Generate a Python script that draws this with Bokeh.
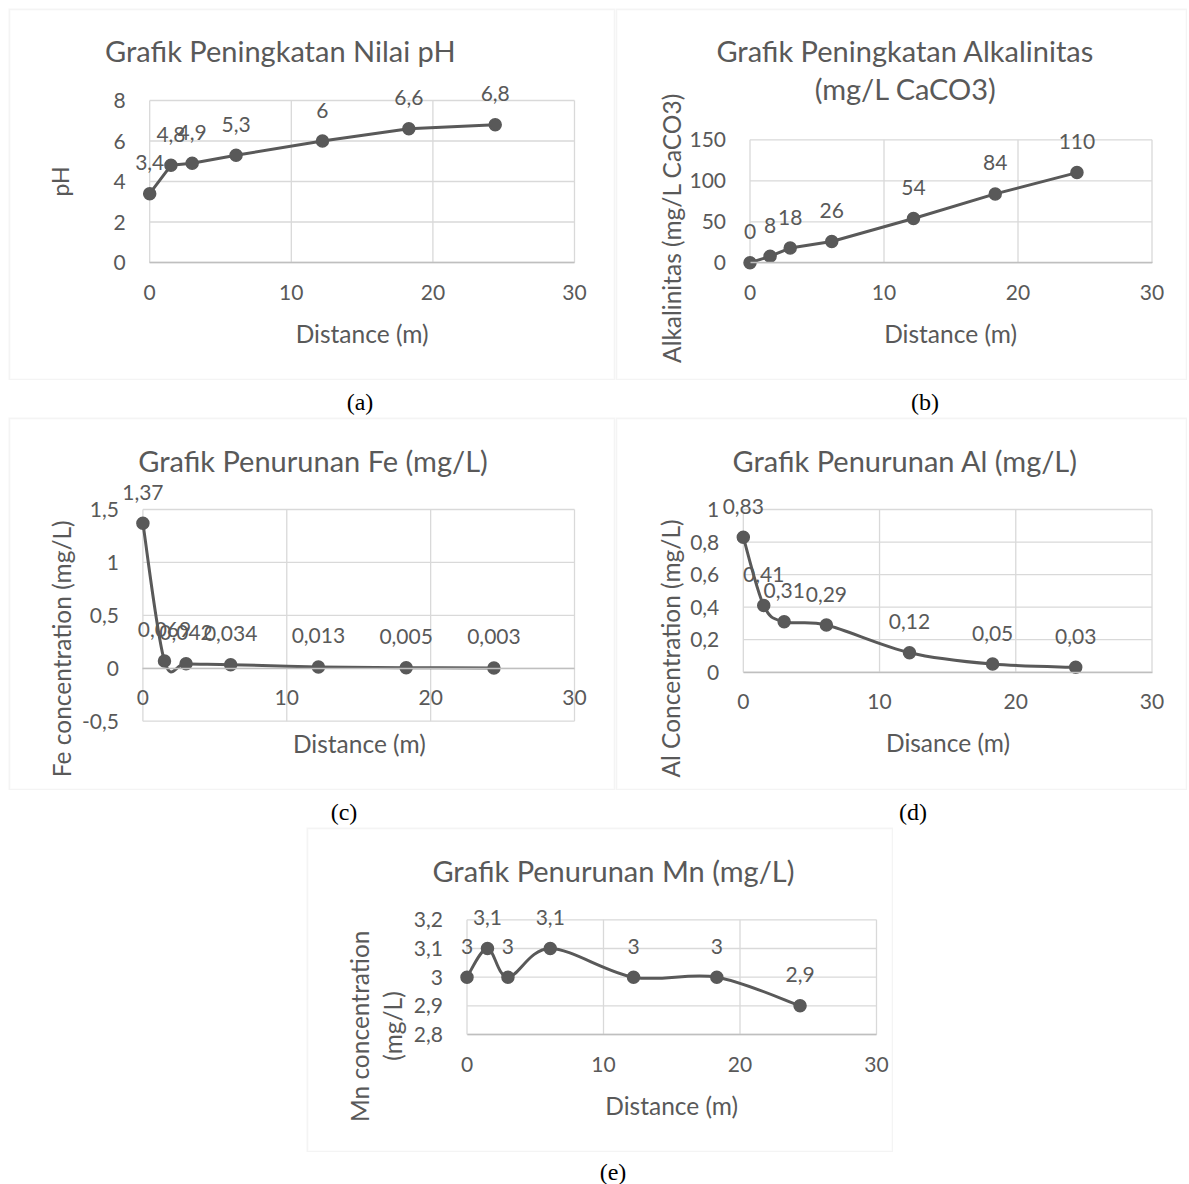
import math
import numpy as np
from bokeh.plotting import figure
from bokeh.models import (ColumnDataSource, LabelSet, Label, FixedTicker, CustomJSTickFormatter,
                          Div, Spacer, Range1d, BoxAnnotation)
from bokeh.core.properties import value
from bokeh.layouts import column, row
from bokeh.embed import file_html
from bokeh.resources import INLINE

# ---------------- data ----------------
distance = [0, 1.5, 3, 6.1, 12.2, 18.3, 24.4]
ph = [3.4, 4.8, 4.9, 5.3, 6.0, 6.6, 6.8]
alkalinity = [0, 8, 18, 26, 54, 84, 110]
fe = [1.37, 0.069, 0.042, 0.034, 0.013, 0.005, 0.003]
al = [0.83, 0.41, 0.31, 0.29, 0.12, 0.05, 0.03]
mn = [3.0, 3.1, 3.0, 3.1, 3.0, 3.0, 2.9]

x_ticks = [0, 10, 20, 30]
ph_ticks = [0, 2, 4, 6, 8]
alk_ticks = [0, 50, 100, 150]
fe_ticks = [-0.5, 0, 0.5, 1, 1.5]
al_ticks = [0, 0.2, 0.4, 0.6, 0.8, 1]
mn_ticks = [2.8, 2.9, 3.0, 3.1, 3.2]

FONT = "Lato"
TXT = "#595959"
LINE = "#595959"
GRID = "#d9d9d9"

fmt_js = CustomJSTickFormatter(code="""
var v = Math.round(tick*1000)/1000;
return v.toString().replace('.', ',');
""")


def fmt(v):
    return f"{v:g}".replace(".", ",")


def bezier_controls(x, y):
    x = np.asarray(x, float)
    y = np.asarray(y, float)
    n = len(x)
    xp = np.concatenate([[x[0]], x, [x[-1]]])
    yp = np.concatenate([[y[0]], y, [y[-1]]])
    cx0 = x[:-1] + (x[1:] - xp[0:n - 1]) / 6.0
    cy0 = y[:-1] + (y[1:] - yp[0:n - 1]) / 6.0
    cx1 = x[1:] - (xp[3:n + 2] - x[:-1]) / 6.0
    cy1 = y[1:] - (yp[3:n + 2] - y[:-1]) / 6.0
    return dict(x0=x[:-1], y0=y[:-1], x1=x[1:], y1=y[1:], cx0=cx0, cy0=cy0, cx1=cx1, cy1=cy1)


def panel(W, H, grid_px, title_lines, ylabel_lines, xlabel, xlabel_px, yvals, yticks,
          smooth, axis_at_zero=False, ylab_size="24.5px"):
    gl, gr, gt, gb = grid_px
    x0, x1 = x_ticks[0], x_ticks[-1]
    y0, y1 = yticks[0], yticks[-1]
    sx = (x1 - x0) / (gr - gl)
    sy = (y1 - y0) / (gb - gt)

    def fx(px):
        return x0 + (px - gl) * sx

    def fy(py):
        return y1 - (py - gt) * sy

    p = figure(width=W, height=H, output_backend="svg", toolbar_location=None,
               x_range=Range1d(fx(0), fx(W)), y_range=Range1d(fy(H), fy(0)),
               min_border=0)
    p.outline_line_color = None
    p.background_fill_color = "white"
    p.border_fill_color = "white"
    p.xgrid.visible = False
    p.ygrid.visible = False

    # outer chart box
    p.add_layout(BoxAnnotation(fill_color=None, line_color=GRID, line_width=3.5, level="underlay"))

    # gridlines from the tick arrays
    p.segment(x0=x_ticks, x1=x_ticks, y0=[y0] * len(x_ticks), y1=[y1] * len(x_ticks),
              line_color=GRID, line_width=1.3)
    p.segment(x0=[x0] * len(yticks), x1=[x1] * len(yticks), y0=yticks, y1=yticks,
              line_color=GRID, line_width=1.3)

    # axes placed at the grid edges
    p.xaxis.fixed_location = 0 if axis_at_zero else y0
    p.xaxis.bounds = (x0, x1)
    p.yaxis.fixed_location = x0
    p.yaxis.bounds = (y0, y1)
    p.xaxis.ticker = FixedTicker(ticks=x_ticks)
    p.yaxis.ticker = FixedTicker(ticks=yticks)
    for ax in (p.xaxis, p.yaxis):
        ax.formatter = fmt_js
        ax.major_tick_line_color = None
        ax.minor_tick_line_color = None
        ax.major_label_text_font = FONT
        ax.major_label_text_font_size = "21px"
        ax.major_label_text_color = TXT
    p.yaxis.axis_line_color = None
    p.yaxis.major_label_standoff = 18
    p.xaxis.axis_line_color = "#bfbfbf"
    p.xaxis.axis_line_width = 1.6
    p.xaxis.major_label_standoff = 16

    # series
    if smooth:
        bz = ColumnDataSource(bezier_controls(distance, yvals))
        p.bezier(x0="x0", y0="y0", x1="x1", y1="y1", cx0="cx0", cy0="cy0", cx1="cx1", cy1="cy1",
                 source=bz, line_color=LINE, line_width=3)
    else:
        p.line(distance, yvals, line_color=LINE, line_width=3)

    src = ColumnDataSource(dict(x=distance, y=yvals, label=[fmt(v) for v in yvals]))
    p.scatter("x", "y", source=src, size=12, fill_color=LINE, line_color=LINE, line_width=1.5)
    p.add_layout(LabelSet(x="x", y="y", text="label", source=src, text_align="center",
                          text_baseline="middle", y_offset=31, text_font=value(FONT),
                          text_font_size=value("21px"), text_color=value(TXT)))

    # chart title
    for (t, cx, cy) in title_lines:
        p.add_layout(Label(x=fx(cx), y=fy(cy), text=t, text_align="center", text_baseline="middle",
                           text_font=FONT, text_font_size="29px", text_color=TXT))
    # axis titles
    p.add_layout(Label(x=fx(xlabel_px[0]), y=fy(xlabel_px[1]), text=xlabel, text_align="center",
                       text_baseline="middle", text_font=FONT, text_font_size="24.5px",
                       text_color=TXT))
    for (t, cx, cy) in ylabel_lines:
        p.add_layout(Label(x=fx(cx), y=fy(cy), text=t, text_align="center", text_baseline="middle",
                           angle=math.pi / 2, text_font=FONT, text_font_size=ylab_size,
                           text_color=TXT))
    return p


pa = panel(607, 372, (141.2, 566, 92, 254),
           [("Grafik Peningkatan Nilai pH", 271.8, 42)],
           [("pH", 51.3, 173)], "Distance (m)", (353.6, 325), ph, ph_ticks, False,
           ylab_size="23px")
pb = panel(572, 372, (134.5, 536.5, 131.3, 254.3),
           [("Grafik Peningkatan Alkalinitas", 289.8, 42), ("(mg/L CaCO3)", 290.2, 80)],
           [("Alkalinitas (mg/L CaCO3)", 56.4, 219.5)], "Distance (m)", (335.1, 325),
           alkalinity, alk_ticks, False)
pc = panel(607, 373, (134.4, 566, 92, 303.7),
           [("Grafik Penurunan Fe (mg/L)", 304.5, 43)],
           [("Fe concentration (mg/L)", 53.2, 231.3)], "Distance (m)", (350.8, 326.3),
           fe, fe_ticks, True, axis_at_zero=True)
pd = panel(572, 373, (127.8, 536.5, 92, 254.7),
           [("Grafik Penurunan Al (mg/L)", 289.7, 43)],
           [("Al Concentration (mg/L)", 54.5, 231)], "Disance (m)", (332.5, 325.3),
           al, al_ticks, True)
pe = panel(587, 325, (160.5, 570, 92.3, 207),
           [("Grafik Penurunan Mn (mg/L)", 306.9, 43)],
           [("Mn concentration", 53.3, 198.8), ("(mg/L)", 85.8, 198.5)], "Distance (m)",
           (365.2, 278), mn, mn_ticks, True)


def cap(text, w, h, cx, cy):
    html = (f'<div style="width:{w}px;height:{h}px;position:relative;">'
            f'<span style="position:absolute;left:{cx - 16}px;top:{cy - 13}px;width:32px;'
            f'text-align:center;font-family:\'Liberation Serif\',serif;font-size:24px;'
            f'line-height:26px;color:#000;">{text}</span></div>')
    return Div(text=html, width=w, height=h, margin=0)


layout = column(
    row(pa, pb),
    row(cap("(a)", 607, 37, 352, 22), cap("(b)", 572, 37, 310, 22)),
    row(pc, pd),
    row(cap("(c)", 607, 37, 336, 22), cap("(d)", 572, 37, 298, 22)),
    row(Spacer(width=298, height=325), pe),
    row(Spacer(width=298, height=32), cap("(e)", 587, 32, 307, 20)),
    margin=(8, 0, 0, 8),
)

open("out.html", "w").write(file_html(layout, INLINE))
